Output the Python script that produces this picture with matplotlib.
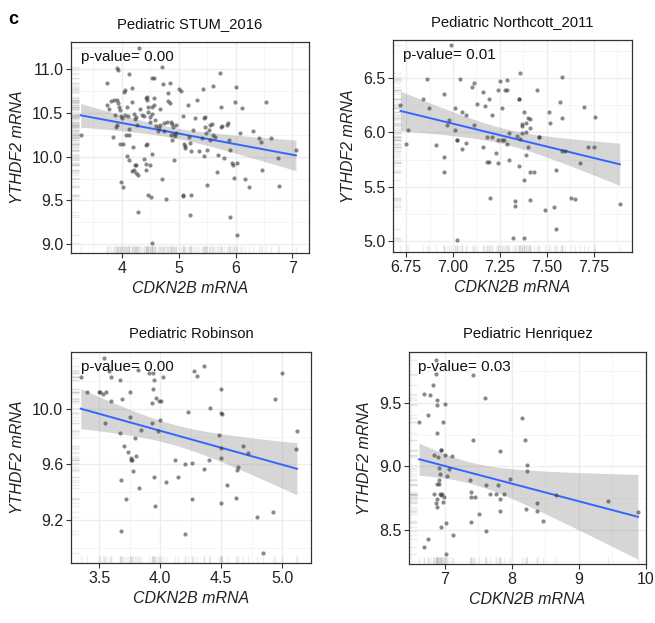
import numpy as np
import matplotlib
matplotlib.use("Agg")
import matplotlib.pyplot as plt
from matplotlib.ticker import FixedLocator

plt.rcParams['font.family'] = ['Liberation Sans', 'DejaVu Sans']

# ---- data ----
stum_x = [3.28, 3.74, 3.75, 3.77, 3.81, 3.84, 3.87, 3.88, 3.90, 3.91, 3.92, 3.94, 3.96, 3.97,
          3.98, 4.00, 4.02, 4.04, 4.05, 4.06, 4.08, 4.09, 4.11, 4.12, 4.13, 3.91, 3.94, 4.12,
          4.19, 4.19, 4.22, 4.23, 4.26, 4.27, 4.19, 4.22, 4.24, 4.25, 4.26, 4.29, 3.98, 4.02,
          4.10, 4.13, 3.97, 4.29, 4.31, 4.32, 4.35, 4.39, 4.42, 4.44, 4.45, 4.46, 4.47, 4.49,
          4.50, 4.53, 4.54, 4.56, 4.57, 4.43, 4.44, 4.39, 4.42, 4.43, 4.49, 4.53, 4.54, 4.57,
          4.46, 4.51, 4.54, 4.58, 4.60, 4.63, 4.66, 4.67, 4.68, 4.71, 4.72, 4.74, 4.75, 4.70,
          4.77, 4.79, 4.81, 4.82, 4.84, 4.85, 4.87, 4.88, 4.91, 4.92, 4.94, 4.95, 4.86, 4.89,
          4.92, 4.96, 5.01, 5.05, 5.07, 5.09, 5.11, 5.12, 5.07, 5.08, 5.17, 5.19, 5.20, 5.21,
          5.22, 5.20, 5.25, 5.29, 5.32, 5.36, 5.41, 5.43, 5.44, 5.46, 5.47, 5.48, 5.44, 5.49,
          5.50, 5.54, 5.56, 5.58, 5.61, 5.64, 5.67, 5.69, 5.73, 5.74, 5.75, 5.77, 5.80, 5.85,
          5.87, 5.89, 5.90, 5.93, 5.95, 5.98, 5.99, 6.01, 6.03, 6.02, 5.91, 6.08, 6.16, 6.24,
          6.31, 6.11, 6.42, 6.44, 6.46, 6.54, 6.63, 6.75, 6.77, 7.06, 4.20, 5.61, 5.55]
stum_y = [10.25, 10.84, 10.59, 10.54, 10.64, 10.23, 10.65, 10.48, 10.34, 10.36, 10.65, 10.61,
          10.57, 10.53, 10.46, 10.44, 10.14, 10.74, 10.76, 10.48, 10.25, 10.57, 10.46, 10.25,
          10.32, 11.01, 10.99, 10.94, 10.78, 10.63, 10.49, 10.43, 10.45, 10.36, 9.84, 9.85,
          9.90, 9.81, 9.91, 9.79, 9.71, 9.65, 10.01, 9.96, 10.15, 9.37, 11.24, 10.55, 10.48,
          10.46, 10.67, 10.68, 10.65, 10.57, 10.51, 10.45, 10.40, 10.49, 10.57, 10.67, 10.59,
          10.13, 10.14, 9.97, 9.92, 9.85, 9.90, 10.03, 10.90, 10.90, 9.56, 9.54, 9.01, 10.42,
          10.35, 10.29, 10.33, 10.36, 10.54, 11.02, 10.83, 10.38, 10.29, 9.74, 9.52, 10.40,
          10.73, 10.64, 10.84, 10.61, 10.40, 10.37, 10.34, 10.26, 10.24, 10.27, 10.25, 10.19,
          9.96, 10.36, 10.77, 10.75, 10.46, 10.15, 10.12, 10.10, 9.56, 9.55, 10.59, 10.23,
          10.16, 10.07, 9.56, 9.33, 10.31, 10.44, 10.65, 10.06, 10.21, 10.77, 10.44, 10.45,
          10.34, 10.27, 10.01, 10.08, 9.68, 10.30, 10.36, 10.37, 10.25, 10.22, 9.83, 10.02,
          10.96, 10.57, 10.34, 10.35, 9.99, 10.36, 10.38, 10.19, 10.08, 9.93, 9.90, 9.76,
          10.63, 10.80, 9.93, 9.11, 9.31, 10.27, 9.75, 9.65, 10.29, 10.56, 10.21, 10.17, 9.85,
          10.62, 10.21, 9.99, 9.67, 10.08, 10.11, 10.81, 10.19]

north_x = [6.72, 6.75, 6.76, 6.84, 6.86, 6.87, 6.95, 6.95, 6.95, 6.91, 6.97, 6.98, 6.99, 7.01,
           7.01, 7.02, 7.02, 7.02, 7.04, 7.05, 7.05, 7.07, 7.07, 7.10, 7.11, 7.11, 7.13, 7.16,
           7.16, 7.17, 7.18, 7.18, 7.19, 7.19, 7.20, 7.21, 7.21, 7.23, 7.24, 7.24, 7.24, 7.25,
           7.26, 7.26, 7.27, 7.28, 7.29, 7.29, 7.29, 7.30, 7.30, 7.32, 7.33, 7.33, 7.34, 7.35,
           7.35, 7.35, 7.36, 7.36, 7.37, 7.37, 7.37, 7.38, 7.38, 7.38, 7.39, 7.39, 7.39, 7.40,
           7.40, 7.41, 7.41, 7.41, 7.41, 7.43, 7.45, 7.46, 7.46, 7.49, 7.51, 7.52, 7.54, 7.55,
           7.55, 7.57, 7.58, 7.58, 7.58, 7.60, 7.63, 7.65, 7.68, 7.70, 7.72, 7.75, 7.76, 7.89]
north_y = [6.25, 5.89, 6.02, 6.31, 6.49, 6.22, 6.35, 5.77, 5.64, 5.88, 6.07, 6.11, 6.80, 6.22,
           6.02, 5.93, 5.93, 5.01, 6.49, 5.85, 6.19, 5.90, 6.16, 6.42, 6.45, 6.07, 6.26, 6.37,
           5.87, 6.24, 5.96, 5.73, 5.73, 6.31, 5.40, 6.16, 5.96, 5.81, 5.93, 5.72, 6.39, 6.47,
           6.22, 5.93, 5.93, 6.39, 5.89, 6.48, 6.39, 5.99, 5.75, 5.03, 5.37, 5.32, 5.97, 6.31,
           6.31, 5.69, 5.94, 6.55, 6.08, 6.06, 5.99, 5.56, 6.19, 5.03, 5.79, 6.09, 6.00, 5.87,
           6.13, 5.38, 6.12, 6.04, 5.64, 5.64, 6.39, 5.96, 5.96, 5.29, 6.19, 6.09, 5.31, 5.11,
           5.65, 6.28, 6.51, 6.13, 5.83, 5.83, 5.40, 5.39, 5.72, 6.23, 5.87, 5.87, 6.14, 5.34]

robin_x = [3.35, 3.40, 3.50, 3.51, 3.53, 3.54, 3.55, 3.56, 3.58, 3.60, 3.60, 3.67, 3.67, 3.68,
           3.68, 3.69, 3.70, 3.72, 3.74, 3.75, 3.75, 3.76, 3.76, 3.77, 3.78, 3.79, 3.80, 3.82,
           3.83, 3.84, 3.91, 3.93, 3.93, 3.94, 3.94, 3.95, 3.95, 3.96, 3.97, 3.98, 3.99, 4.00,
           4.01, 4.02, 4.05, 4.12, 4.15, 4.20, 4.20, 4.23, 4.26, 4.26, 4.28, 4.30, 4.36, 4.36,
           4.40, 4.41, 4.48, 4.50, 4.50, 4.51, 4.50, 4.50, 4.50, 4.55, 4.62, 4.63, 4.64, 4.68,
           4.72, 4.79, 4.84, 4.92, 4.94, 5.00, 5.11, 5.12]
robin_y = [10.23, 10.12, 10.12, 10.12, 10.11, 10.37, 9.90, 10.12, 10.27, 10.23, 10.06, 10.21,
           9.83, 9.49, 9.12, 10.07, 9.73, 9.35, 9.69, 10.12, 9.94, 9.65, 9.63, 9.63, 9.55, 9.79,
           9.66, 10.28, 9.43, 9.85, 10.26, 10.04, 9.90, 10.14, 10.26, 10.21, 9.51, 9.30, 10.08,
           9.84, 10.06, 9.92, 10.06, 10.23, 9.47, 9.63, 9.51, 9.10, 9.60, 9.98, 9.61, 9.35,
           10.27, 10.24, 9.57, 10.31, 9.63, 10.01, 9.81, 10.14, 9.97, 9.96, 9.65, 9.32, 9.72,
           9.45, 9.36, 9.56, 9.58, 9.73, 9.68, 9.22, 8.96, 9.26, 10.07, 10.26, 9.71, 9.84]

henri_x = [6.62, 6.69, 6.69, 6.76, 6.76, 6.78, 6.83, 6.84, 6.84, 6.87, 6.87, 6.87, 6.88, 6.88,
           6.88, 6.89, 6.89, 6.89, 6.90, 6.91, 6.92, 6.92, 6.93, 6.93, 6.94, 6.94, 6.95, 6.94,
           6.96, 6.97, 6.97, 6.99, 7.01, 7.01, 7.02, 7.02, 7.03, 7.07, 7.11, 7.12, 7.38, 7.39,
           7.39, 7.40, 7.42, 7.43, 7.46, 7.52, 7.60, 7.62, 7.61, 7.67, 7.76, 7.80, 7.83, 7.83,
           7.83, 7.89, 7.98, 8.15, 8.20, 8.21, 8.23, 8.23, 8.37, 8.38, 8.46, 8.66, 9.44, 9.88]
henri_y = [9.35, 9.57, 8.36, 9.40, 8.43, 9.56, 9.64, 9.09, 8.78, 9.73, 9.84, 8.71, 8.86, 8.68,
           8.74, 9.52, 9.48, 9.26, 9.07, 8.89, 8.99, 8.86, 8.94, 8.78, 9.13, 8.77, 9.13, 8.52,
           8.78, 9.35, 8.72, 8.76, 9.49, 9.09, 8.55, 8.31, 8.92, 8.98, 9.08, 8.46, 8.89, 8.80,
           8.56, 8.76, 9.72, 9.21, 8.76, 8.62, 9.54, 8.85, 8.49, 8.78, 8.78, 8.85, 8.74, 9.12,
           8.65, 8.78, 8.90, 9.38, 9.21, 8.66, 9.01, 8.96, 8.71, 8.65, 8.57, 8.77, 8.73, 8.64]

titles = ["Pediatric STUM_2016", "Pediatric Northcott_2011", "Pediatric Robinson", "Pediatric Henriquez"]
pvalues = ["0.00", "0.01", "0.00", "0.03"]

xticks = [[4, 5, 6, 7], [6.75, 7.0, 7.25, 7.5, 7.75], [3.5, 4.0, 4.5, 5.0], [7, 8, 9, 10]]
xticklabels = [["4", "5", "6", "7"], ["6.75", "7.00", "7.25", "7.50", "7.75"],
               ["3.5", "4.0", "4.5", "5.0"], ["7", "8", "9", "10"]]
yticks = [[9.0, 9.5, 10.0, 10.5, 11.0], [5.0, 5.5, 6.0, 6.5], [9.2, 9.6, 10.0], [8.5, 9.0, 9.5]]
yticklabels = [["9.0", "9.5", "10.0", "10.5", "11.0"], ["5.0", "5.5", "6.0", "6.5"],
               ["9.2", "9.6", "10.0"], ["8.5", "9.0", "9.5"]]
xlims = [(3.11, 7.29), (6.68, 7.955), (3.27, 5.235), (6.47, 10.0)]
ylims = [(8.90, 11.31), (4.90, 6.85), (8.89, 10.41), (8.23, 9.90)]

xs = [stum_x, north_x, robin_x, henri_x]
ys = [stum_y, north_y, robin_y, henri_y]

# axes boxes in pixels: left, top, right, bottom
boxes = [(71, 42, 309, 253), (393, 40, 632, 252), (71, 352, 311, 563), (409, 352, 646, 564)]

W, H = 655, 623
fig = plt.figure(figsize=(W / 100, H / 100), dpi=100)

for i in range(4):
    l, t, r, b = boxes[i]
    ax = fig.add_axes([l / W, 1 - b / H, (r - l) / W, (b - t) / H])
    x = np.array(xs[i])
    y = np.array(ys[i])

    # linear fit with 95% confidence band
    n = len(x)
    slope, icpt = np.polyfit(x, y, 1)
    resid = y - (slope * x + icpt)
    s = np.sqrt(np.sum(resid ** 2) / (n - 2))
    sxx = np.sum((x - x.mean()) ** 2)
    xx = np.linspace(x.min(), x.max(), 80)
    yy = slope * xx + icpt
    tval = 1.96 + 2.5 / (n - 2)
    se = s * np.sqrt(1 / n + (xx - x.mean()) ** 2 / sxx)

    ax.fill_between(xx, yy - tval * se, yy + tval * se, color='#999999', alpha=0.4, lw=0, zorder=2)
    ax.plot(xx, yy, color='#3366FF', lw=1.4, zorder=3)
    ax.scatter(x, y, s=9, color='#3a3a3a', alpha=0.6, lw=0, zorder=4)

    # rugs
    ax.vlines(x, 0, 0.035, transform=ax.get_xaxis_transform(), color='#aaaaaa', alpha=0.2, lw=1.0, zorder=1)
    ax.hlines(y, 0, 0.035, transform=ax.get_yaxis_transform(), color='#aaaaaa', alpha=0.2, lw=1.0, zorder=1)

    ax.set_xlim(xlims[i])
    ax.set_ylim(ylims[i])
    ax.set_xticks(xticks[i])
    ax.set_xticklabels(xticklabels[i])
    ax.set_yticks(yticks[i])
    ax.set_yticklabels(yticklabels[i])
    dx = xticks[i][1] - xticks[i][0]
    dy = yticks[i][1] - yticks[i][0]
    ax.xaxis.set_minor_locator(FixedLocator(np.arange(xticks[i][0] - 3 * dx / 2, xticks[i][-1] + dx, dx)))
    ax.yaxis.set_minor_locator(FixedLocator(np.arange(yticks[i][0] - 3 * dy / 2, yticks[i][-1] + dy, dy)))
    ax.grid(True, which='major', color='#ededed', lw=1.0, zorder=0)
    ax.grid(True, which='minor', color='#f4f4f4', lw=0.6, zorder=0)
    ax.set_axisbelow(True)
    ax.tick_params(which='minor', length=0)
    ax.tick_params(which='major', length=3.5, width=0.8, color='#333333', labelsize=11.5,
                   labelcolor='#222222', pad=2)
    for sp in ax.spines.values():
        sp.set_color('#333333')
        sp.set_linewidth(0.9)

    ax.set_title(titles[i], fontsize=10.6, color='#111111', pad=10)
    ax.set_xlabel('CDKN2B mRNA', fontsize=11.5, style='italic', color='#222222', labelpad=4)
    ax.set_ylabel('YTHDF2 mRNA', fontsize=11.5, style='italic', color='#222222', labelpad=5)
    ax.text(0.04, 0.93, 'p-value= ' + pvalues[i], transform=ax.transAxes, fontsize=11,
            va='center', ha='left', color='#111111', zorder=5)

fig.text(0.013, 0.982, 'c', fontsize=13, fontweight='bold', va='top', ha='left')

fig.savefig('out.png', dpi=100)
